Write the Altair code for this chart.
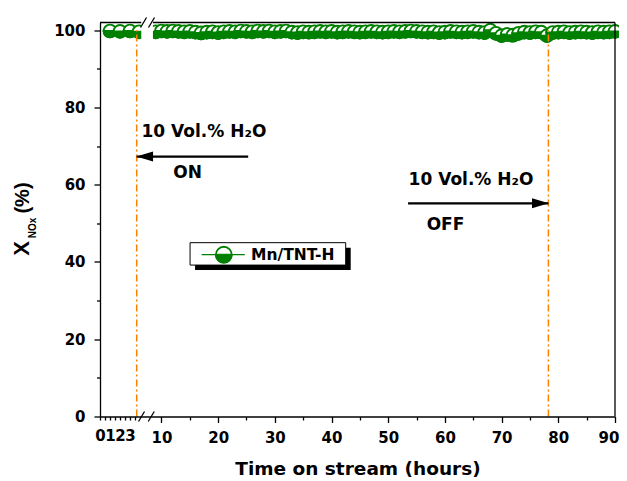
import altair as alt
import pandas as pd

# ---------------- data ----------------
t_before = [1, 2, 3, 3.9]
x_before = [99.8, 99.7, 99.8, 99.6]

t_after = list(range(9, 91))
x_after = [
    99.6, 99.8, 99.7, 99.8, 99.7, 99.6, 99.7, 99.5, 99.3, 99.5,   # 9-18
    99.6, 99.4, 99.6, 99.7, 99.6, 99.8, 99.7, 99.6, 99.8, 99.7,   # 19-28
    99.8, 99.6, 99.7, 99.8, 99.5, 99.4, 99.6, 99.5, 99.6, 99.7,   # 29-38
    99.6, 99.7, 99.5, 99.6, 99.7, 99.6, 99.5, 99.6, 99.7, 99.6,   # 39-48
    99.5, 99.6, 99.7, 99.6, 99.7, 99.8, 99.7, 99.6, 99.5, 99.6,   # 49-58
    99.4, 99.5, 99.7, 99.6, 99.5, 99.6, 99.7, 99.5, 99.4, 100.0,  # 59-68
    99.2, 98.6, 98.9, 98.7, 99.2, 99.5, 99.4, 99.6, 99.5, 98.6,   # 69-78
    99.4, 99.5, 99.6, 99.4, 99.5, 99.6, 99.5, 99.4, 99.6, 99.5,   # 79-88
    99.6, 99.7,                                                   # 89-90
]

x_ticks_left = [0, 0.5, 1, 1.5, 2, 2.5, 3, 3.5]
x_ticks_right = list(range(10, 91, 5))
y_ticks = list(range(0, 101, 10))

water_on_t = 3.67
water_off_t = 78.25
series_name = "Mn/TNT-H"
water_label = "10 Vol.% H\u2082O"
x_title = "Time on stream (hours)"

# ---------------- styling ----------------
GREEN = "#008000"
ORANGE = "#FF8000"
FONT = "DejaVu Sans"
TFONT = "Liberation Sans"
HALF = "M -1 0 A 1 1 0 0 0 1 0 Z"
HEAD_L = "M -1 0 L 1 -0.6 L 1 0.6 Z"
HEAD_R = "M 1 0 L -1 -0.6 L -1 0.6 Z"

xs = alt.Scale(domain=[0, 4, 8, 90], range=[0, 40, 50.1, 515], nice=False, zero=False)
ys = alt.Scale(domain=[0, 102], nice=False, zero=False)

common_axis = dict(
    domainColor="black", domainWidth=1.3, tickColor="black", tickWidth=1.3,
    labelColor="black", labelFont=FONT, labelFontWeight="bold", labelFontSize=15,
    labelOverlap=False, labelFlush=False, grid=False, zindex=1,
    titleColor="black", titleFont=FONT, titleFontWeight="bold",
)

xaxis = alt.Axis(
    values=x_ticks_left + x_ticks_right,
    labelExpr="((datum.value < 4 && datum.value == floor(datum.value)) || (datum.value >= 10 && datum.value % 10 == 0)) ? format(datum.value, 'd') : ''",
    tickSize={"condition": {"test": "datum.value >= 10 && datum.value % 10 == 0", "value": 6}, "value": 3.5},
    labelOffset={"condition": {"test": "datum.value == 90", "value": -6.5}, "value": 0},
    labelPadding=8, titleFontSize=18.5, titlePadding=14,
    **common_axis,
)
yaxis = alt.Axis(
    values=y_ticks,
    labelExpr="datum.value % 20 == 0 ? format(datum.value, 'd') : ''",
    tickSize={"condition": {"test": "datum.value % 20 == 0", "value": 6}, "value": 3.5},
    labelPadding=9,
    **common_axis,
)


def X(f):
    return alt.X(f, type="quantitative", scale=xs, axis=xaxis, title=x_title)


def Y(f):
    return alt.Y(f, type="quantitative", scale=ys, axis=yaxis, title="")


pts = pd.DataFrame({
    "t": t_before + t_after,
    "v": x_before + x_after,
    "seg": ["a"] * len(t_before) + ["b"] * len(t_after),
})

# interleave a white circle and a green lower half for every point, so that
# each later marker is drawn over the previous one (as in the original plot)
marker_rows = []
for t, v in zip(t_before + t_after, x_before + x_after):
    marker_rows.append({"t": t, "v": v, "part": "ring"})
    marker_rows.append({"t": t, "v": v, "part": "half"})
markers = pd.DataFrame(marker_rows)

part_shape = alt.Shape("part:N", scale=alt.Scale(domain=["ring", "half"], range=["circle", HALF]), legend=None)
part_fill = alt.Fill("part:N", scale=alt.Scale(domain=["ring", "half"], range=["white", GREEN]), legend=None)

line = alt.Chart(pts).mark_line(color=GREEN, strokeWidth=1).encode(x=X("t"), y=Y("v"), detail="seg")
pts_mark = alt.Chart(markers).mark_point(
    filled=True, stroke=GREEN, strokeWidth=1.9, size=165, opacity=1, fillOpacity=1, strokeOpacity=1,
).encode(x=X("t"), y=Y("v"), shape=part_shape, fill=part_fill)

gap = alt.Chart(pd.DataFrame({"a": [4.5], "b": [8.5], "c": [93], "d": [105]})).mark_rect(
    fill="white").encode(x=X("a"), x2="b", y=Y("c"), y2="d")

top_border = alt.Chart(pd.DataFrame({"a": [0, 8.5], "b": [4.5, 90], "c": [102, 102]})).mark_rule(
    color="black", strokeWidth=1.3).encode(x=X("a"), x2="b", y=Y("c"))
right_border = alt.Chart(pd.DataFrame({"a": [90], "c": [0], "d": [102]})).mark_rule(
    color="black", strokeWidth=1.3).encode(x=X("a"), y=Y("c"), y2="d")

slashes = alt.Chart(pd.DataFrame({
    "a": [5.4, 8.25, 4.6, 8.2], "c": [102, 102, 0, 0]})).mark_rule(
    color="black", strokeWidth=1.3, xOffset=-3, x2Offset=3, yOffset=5, y2Offset=-5,
).encode(x=X("a"), x2="a", y=Y("c"), y2="c")

orange = alt.Chart(pd.DataFrame({"a": [water_on_t, water_off_t], "c": [0, 0], "d": [100, 100]})).mark_rule(
    color=ORANGE, strokeWidth=1.5, strokeDash=[7, 3, 2, 3]).encode(x=X("a"), y=Y("c"), y2="d")

shafts = alt.Chart(pd.DataFrame({"a": [water_on_t, 53.5], "b": [25.3, water_off_t], "c": [67.3, 55.2]})).mark_rule(
    color="black", strokeWidth=2.2).encode(x=X("a"), x2="b", y=Y("c"))
head_l = alt.Chart(pd.DataFrame({"a": [water_on_t], "c": [67.3]})).mark_point(
    shape=HEAD_L, filled=True, fill="black", strokeWidth=0, size=279, opacity=1, xOffset=8,
).encode(x=X("a"), y=Y("c"))
head_r = alt.Chart(pd.DataFrame({"a": [water_off_t], "c": [55.2]})).mark_point(
    shape=HEAD_R, filled=True, fill="black", strokeWidth=0, size=279, opacity=1, xOffset=-8,
).encode(x=X("a"), y=Y("c"))

notes = alt.Chart(pd.DataFrame({
    "a": [17.5, 14.6, 64.6, 60.1],
    "c": [73.7, 63.0, 61.2, 49.6],
    "txt": [water_label, "ON", water_label, "OFF"],
})).mark_text(font=FONT, fontWeight="bold", fontSize=17, color="black", align="center",
              baseline="middle").encode(x=X("a"), y=Y("c"), text="txt")

# legend (box with shadow)
leg_box = pd.DataFrame({"a": [15.05], "b": [42.5], "c": [39.2], "d": [45.0]})
leg_shadow = alt.Chart(leg_box).mark_rect(fill="black", xOffset=5, x2Offset=5, yOffset=5, y2Offset=5).encode(
    x=X("a"), x2="b", y=Y("c"), y2="d")
leg_frame = alt.Chart(leg_box).mark_rect(fill="white", stroke="black", strokeWidth=1).encode(
    x=X("a"), x2="b", y=Y("c"), y2="d")
leg_line = alt.Chart(pd.DataFrame({"a": [17.1], "b": [24.7], "c": [41.9]})).mark_rule(
    color=GREEN, strokeWidth=1.3).encode(x=X("a"), x2="b", y=Y("c"))
leg_pt = pd.DataFrame({"a": [21.0, 21.0], "c": [41.9, 41.9], "part": ["ring", "half"]})
leg_m = alt.Chart(leg_pt).mark_point(filled=True, stroke=GREEN, strokeWidth=1.8, size=250, opacity=1,
                                     fillOpacity=1).encode(x=X("a"), y=Y("c"), shape=part_shape, fill=part_fill)
leg_t = alt.Chart(pd.DataFrame({"a": [25.8], "c": [41.9], "txt": [series_name]})).mark_text(
    font=FONT, fontWeight="bold", fontSize=15.5, color="black", align="left", baseline="middle",
).encode(x=X("a"), y=Y("c"), text="txt")

# y-axis title: X with subscript NOx, then (%)
one = alt.Data(values=[{"k": 1}])
yt_x = alt.Chart(one).mark_text(text="X", font=TFONT, fontWeight="bold", fontSize=22, angle=270,
                                align="center", baseline="middle", color="black").encode(
    x=alt.value(-78), y=alt.value(226))
yt_sub = alt.Chart(one).mark_text(text="NOx", font=TFONT, fontWeight="bold", fontSize=10, angle=270,
                                  align="center", baseline="middle", color="black").encode(
    x=alt.value(-67.5), y=alt.value(205.5))
yt_pct = alt.Chart(one).mark_text(text="(%)", font=TFONT, fontWeight="bold", fontSize=20, angle=270,
                                  align="center", baseline="middle", color="black").encode(
    x=alt.value(-77), y=alt.value(175.5))

chart = alt.layer(
    line, pts_mark, gap, top_border, right_border, slashes, orange,
    shafts, head_l, head_r, notes,
    leg_shadow, leg_frame, leg_line, leg_m, leg_t,
    yt_x, yt_sub, yt_pct,
).properties(
    width=515, height=394,
    autosize=alt.AutoSizeParams(type="none"),
    padding={"left": 92, "top": 14.5, "right": 4, "bottom": 70},
    background="white",
).configure_view(strokeWidth=0)

chart.save("out.html", embed_options={"renderer": "svg", "actions": False})
